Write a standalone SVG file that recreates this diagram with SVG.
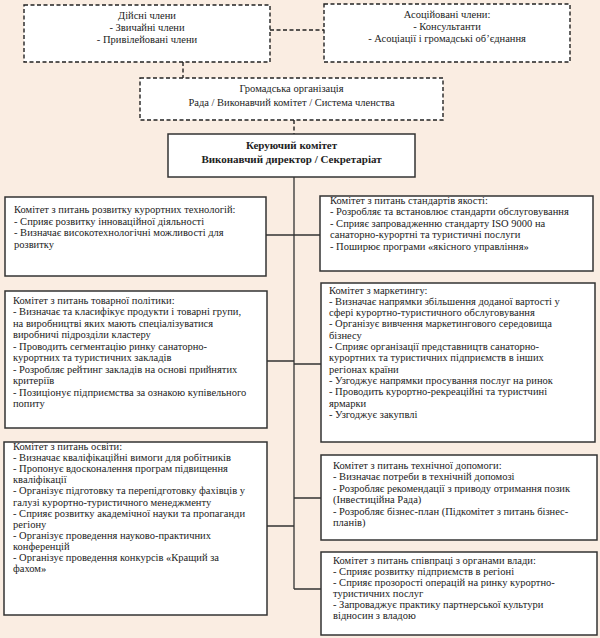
<svg xmlns="http://www.w3.org/2000/svg" width="600" height="638" viewBox="0 0 600 638">
<style>
.t{font-family:"Liberation Serif","Times New Roman",serif;font-size:10.5px;fill:#222}
.c{text-anchor:middle}
.b{font-weight:bold;font-size:11px}
.dash{fill:#fff;stroke:#222;stroke-width:1.4;stroke-dasharray:4 2.5}
.box{fill:#fff;stroke:#333;stroke-width:1.5}
.ln{stroke:#333;stroke-width:1.3;fill:none}
.dl{stroke:#222;stroke-width:1.4;stroke-dasharray:4 2.5;fill:none}
</style>
<rect width="600" height="638" fill="#FAEDE2"/>
<g id="connectors">
<path class="dl" d="M270 30H324M183 62V78M294 120V134"/>
<path class="ln" d="M294 177V589M266 235H321M267 361H294M294 364H321M294 498H321M267 526H294M294 589H321"/>
</g>
<g id="n-members">
<rect class="dash" x="24" y="5" width="246" height="57"/>
<text class="t c" x="147" y="18.5">Дійсні члени</text>
<text class="t c" x="147" y="30.5">- Звичайні члени</text>
<text class="t c" x="147" y="43">- Привілейовані члени</text>
</g>
<g id="n-assoc">
<rect class="dash" x="324" y="4" width="246" height="58"/>
<text class="t c" x="447" y="18">Асоційовані члени:</text>
<text class="t c" x="447" y="29.5">- Консультанти</text>
<text class="t c" x="447" y="41.5">- Асоціації і громадські об’єднання</text>
</g>
<g id="n-org">
<rect class="dash" x="140" y="78" width="303" height="42"/>
<text class="t c" x="291.5" y="91.5">Громадська організація</text>
<text class="t c" x="291.5" y="105.5">Рада / Виконавчий комітет / Система членства</text>
</g>
<g id="n-steer">
<rect class="box" x="168" y="134" width="247" height="43"/>
<text class="t c b" x="291.5" y="149">Керуючий комітет</text>
<text class="t c b" x="291.5" y="163">Виконавчий директор / Секретаріат</text>
</g>
<g id="n-tech">
<rect class="box" x="5" y="197" width="261" height="79"/>
<text class="t" x="14" y="213">Комітет з питань розвитку курортних технологій:</text>
<text class="t" x="14" y="224.5">- Сприяє розвитку інноваційної діяльності</text>
<text class="t" x="14" y="236">- Визначає високотехнологічні можливості для</text>
<text class="t" x="14" y="247.5">розвитку</text>
</g>
<g id="n-quality">
<rect class="box" x="320" y="196" width="273" height="75"/>
<text class="t" x="330" y="203.5">Комітет з питань стандартів якості:</text>
<text class="t" x="330" y="215">- Розробляє та встановлює стандарти обслуговування</text>
<text class="t" x="330" y="226.5">- Сприяє запровадженню стандарту ISO 9000 на</text>
<text class="t" x="330" y="238">санаторно-курортні та туристичні послуги</text>
<text class="t" x="330" y="249.5">- Поширює програми «якісного управління»</text>
</g>
<g id="n-product">
<rect class="box" x="5" y="291" width="262" height="137"/>
<text class="t" x="13" y="303.5">Комітет з питань товарної політики:</text>
<text class="t" x="13" y="315">- Визначає та класифікує продукти і товарні групи,</text>
<text class="t" x="13" y="326.5">на виробництві яких мають спеціалізуватися</text>
<text class="t" x="13" y="338">виробничі підрозділи кластеру</text>
<text class="t" x="13" y="349.5">- Проводить сегментацію ринку санаторно-</text>
<text class="t" x="13" y="361">курортних та туристичних закладів</text>
<text class="t" x="13" y="372.5">- Розробляє рейтинг закладів на основі прийнятих</text>
<text class="t" x="13" y="384">критеріїв</text>
<text class="t" x="13" y="395.5">- Позиціонує підприємства за ознакою купівельного</text>
<text class="t" x="13" y="407">попиту</text>
</g>
<g id="n-marketing">
<rect class="box" x="321" y="283" width="274" height="159"/>
<text class="t" x="329" y="293.5">Комітет з маркетингу:</text>
<text class="t" x="329" y="304.8">- Визначає напрямки збільшення доданої вартості у</text>
<text class="t" x="329" y="316.1">сфері курортно-туристичного обслуговування</text>
<text class="t" x="329" y="327.4">- Організує вивчення маркетингового середовища</text>
<text class="t" x="329" y="338.7">бізнесу</text>
<text class="t" x="329" y="350">- Сприяє організації представництв санаторно-</text>
<text class="t" x="329" y="361.3">курортних та туристичних підприємств в інших</text>
<text class="t" x="329" y="372.6">регіонах країни</text>
<text class="t" x="329" y="383.9">- Узгоджує напрямки просування послуг на ринок</text>
<text class="t" x="329" y="395.2">- Проводить курортно-рекреаційні та туристчині</text>
<text class="t" x="329" y="406.5">ярмарки</text>
<text class="t" x="329" y="417.8">- Узгоджує закупвлі</text>
</g>
<g id="n-education">
<rect class="box" x="4" y="442" width="263" height="173"/>
<text class="t" x="13" y="450">Комітет з питань освіти:</text>
<text class="t" x="13" y="461.1">- Визначає кваліфікаційні вимоги для робітників</text>
<text class="t" x="13" y="472.2">- Пропонує вдосконалення програм підвищення</text>
<text class="t" x="13" y="483.3">кваліфікації</text>
<text class="t" x="13" y="494.4">- Організує підготовку та перепідготовку фахівців у</text>
<text class="t" x="13" y="505.5">галузі курортно-туристичного менеджменту</text>
<text class="t" x="13" y="516.6">- Сприяє розвитку академічної науки та пропаганди</text>
<text class="t" x="13" y="527.7">регіону</text>
<text class="t" x="13" y="538.8">- Організує проведення науково-практичних</text>
<text class="t" x="13" y="549.9">конференцій</text>
<text class="t" x="13" y="561">- Організує проведення конкурсів «Кращий за</text>
<text class="t" x="13" y="572.1">фахом»</text>
</g>
<g id="n-techhelp">
<rect class="box" x="321" y="455" width="276" height="85"/>
<text class="t" x="333" y="468.5">Комітет з питань технічної допомоги:</text>
<text class="t" x="333" y="480">- Визначає потреби в технічній допомозі</text>
<text class="t" x="333" y="491.5">- Розробляє рекомендації з приводу отримання позик</text>
<text class="t" x="333" y="503">(Інвестиційна Рада)</text>
<text class="t" x="333" y="514.5">- Розробляє бізнес-план (Підкомітет з питань бізнес-</text>
<text class="t" x="333" y="526">планів)</text>
</g>
<g id="n-gov">
<rect class="box" x="321" y="552" width="276" height="83"/>
<text class="t" x="333" y="563.5">Комітет з питань співпраці з органами влади:</text>
<text class="t" x="333" y="574.5">- Сприяє розвитку підприємств в регіоні</text>
<text class="t" x="333" y="585.5">- Сприяє прозорості операцій на ринку курортно-</text>
<text class="t" x="333" y="596.5">туристичних послуг</text>
<text class="t" x="333" y="607.5">- Запроваджує практику партнерської культури</text>
<text class="t" x="333" y="618.5">відносин з владою</text>
</g>
</svg>
